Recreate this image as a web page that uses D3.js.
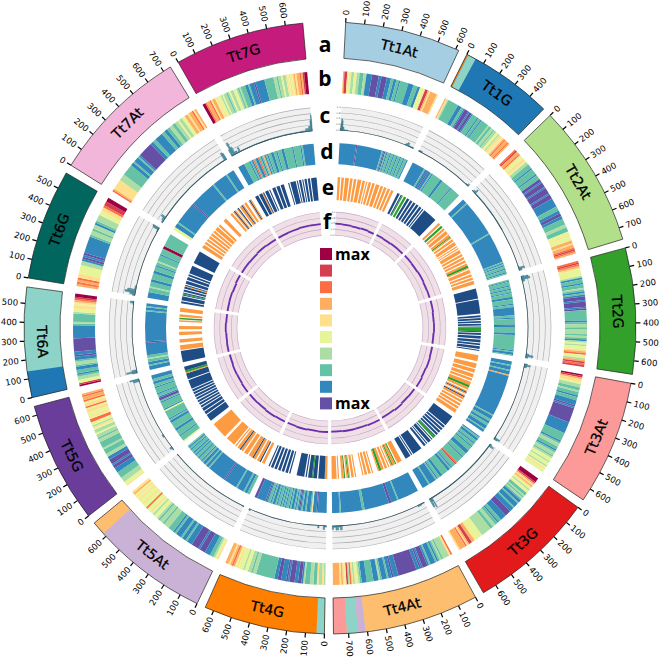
<!DOCTYPE html>
<html>
<head>
<meta charset="utf-8">
<script src="https://cdn.jsdelivr.net/npm/d3@7"></script>
<style>
html,body{margin:0;padding:0;background:#fff}
svg{display:block}
</style>
</head>
<body>
<svg id="chart" width="660" height="658"></svg>
<script>
var chrNames=['Tt1At','Tt1G','Tt2At','Tt2G','Tt3At','Tt3G','Tt4At','Tt4G','Tt5At','Tt5G','Tt6A','Tt6G','Tt7At','Tt7G'];
var chrLengths=[617,498,763,672,668,676,780,647,693,648,587,591,743,693];
var chrColors=['#a6cee3','#1f78b4','#b2df8a','#33a02c','#fb9a99','#e31a1c','#fdbf6f','#ff7f00','#cab2d6','#6a3d9a','#8dd3c7','#01665e','#f1b6da','#c51b7d'];

// blocks painted over the ideogram: chromosome, from, to, colour of the donor chromosome
var blockChr=['Tt1G','Tt1G','Tt4At','Tt4At','Tt4At','Tt4G','Tt5At','Tt6A'];
var blockFrom=[0,8,610,650,710,0,620,0];
var blockTo=[8,52,650,710,780,42,693,140];
var blockDonor=['Tt4G','Tt6A','Tt5At','Tt6A','Tt3At','Tt6A','Tt4At','Tt1G'];

var legendColors=['#9e0142','#d53e4f','#fd6d43','#fdae61','#fee08b','#e6f598','#abdda4','#66c2a5','#3288bd','#6650a6'];
var legendLabels=['max','','','','','','','','','max'];
var ringLetters=['a','b','c','d','e','f'];

// one digit per bin, 0 = purple ... 9 = dark red (legend read bottom to top)
var ringB=[
'68854433443322233111100000110000111221122122222211112221144458865666665',
'65322222222111221000100122221221222222322332334435545676676',
'7866754455433222122221222001000100001000111111222110011222233222445444665667876',
'78765444431221223212100100010222222123323332321343445674436878',
'9865543322322122111010000000001111111222221233221233234434434544',
'9998656543442232321121112111000011112212233223333333444445668865766665',
'7533332321211121000101100000000000111011211123111222211123443573845656666',
'353352233222310011000101110011222222222223323344344454676566',
'5432211100010000111211211121222333233234434544744544545465',
'54433322221110010001133222322223323343345344774544554755476676',
'98443321221123321101100000000111111112322222344554567899',
'67675544443310101111111123323312333445578899',
'7655555533332222222112111210000000001122111112211223322334334466566756',
'99766756645443433234334432322211211101111112222223323343354545656676899'
];
var ringD=[
'11111111111111011111111111111111111121021221221221221221221',
'11111111112110112122222221122222222122222222',
'111121111111111111111111111111111112111111111111111111111111121212212212',
'212221221221222112222122111111122122222012222211222222222222212112',
'11121112111611111111111111111111111111111111112111221122111211',
'12112212212221112221222227822212112222211221211111211111',
'11111111111111111211111001111111111111111111122111111111111111112111111',
'1111111011152111211210121211212212121221211212210111111100',
'22112111112111111111011111111111112112112122122121221212',
'42222122221122222112122222241222221200122122221221122111',
'111211223221111111110111111111111111111111121121 1'.replace(' ',''),
'1111222322211222211222122322221222299222222222',
'441112111111111111111011111111111111111121111111111211111',
'1111122221217211721261212211221222112222221222221211111111'
];
// one char per bin: . empty, O orange, B blue, G green
var ringE=[
'OO.OO.OOO.OO.OO.OOO.OO.O.OO.OO.OOO.OO.OO.OO.OO',
'BB.BG.GG.BB.BB.BB.BB.BB.B.BBBBBBBBBBBB',
'OO.GG.OO.OOO.OOGO.OO.OOO.O.O.OOO.OO.OO.OO.OOGGO.OOO.OO.OO.OOO',
'BBBBBBBBBBB.BBBBBBBBBBBBBBB..BB.BB.BB.BB.BGGGGB.BB.BBB.BBB.BB.BBB.B',
'OOOOO..OOOO.OOO.OOO.OO.OOOGGOO.OBO.OBOO.OO.OO.OO.OOO',
'BBBBBBBBBB.BB.BB.BB.BB.BGG.B.BBB.B.BB...BBBBBBBBB.B.BBBBB',
'OOOO.GOOGO.O.OO.OOGGO....O.OO.OO.O.....O.OO.OGO.GOO..O.OOOO',
'OOBBBBB.BBBGBBB.B.BBBBBB.....B.BB.BB.BB.BB.BB.B',
'OO.BOO.OOBOOO.OOO.OOBOO.O.OOOOOOO..OOOOOOOOOOOO',
'BBBBBBB.BBB.BBB.BB.BB.BB.BB.BB.BB.BB.BBBBBBBBB.BBBBBBOGGBBBB',
'BBBBBBBBBBBBBB.OOOOOO...OOOO.....OOOO...OOOO.....OO.GG.OOO...OOOOO',
'BB.BBBB.BGB.BB.BBOB.BBB.BBB.BB.BBBBBBBB...BBBBBBBBBBBBB',
'OOO.OO.OO.OO.OO.OO.OOO.OO....OOO.....OO.OBO.OB.OOBO.OO..OBO',
'BBB.BBBOB.BBB.B..BBB.BBB.BBB....B.BBBBB.B.BB.B.BB.BB.BBBBB'
];

// ring c: [position, level], each level holds until the next position
var ringC=[
[[0,.1],[4,.3],[8,.5],[14,.42],[20,.14],[30,.03],[60,.01],[540,.02],[550,.08],[560,.14],[575,.03],[617,0]],
[[0,.03],[10,.05],[30,.01],[470,.03],[485,.09],[498,0]],
[[0,.02],[12,.08],[25,.18],[35,.02],[400,.01],[725,.03],[738,.25],[750,.12],[763,0]],
[[0,.12],[6,.3],[18,.35],[30,.1],[45,.01],[630,.02],[640,.12],[648,.3],[660,.08],[672,0]],
[[0,.12],[8,.25],[18,.1],[30,.01],[640,.02],[650,.25],[660,.15],[668,0]],
[[0,.08],[10,.2],[22,.02],[640,.02],[650,.45],[656,.15],[665,.4],[676,0]],
[[0,.03],[30,.06],[60,.01],[690,.02],[700,.18],[715,.05],[730,.18],[750,.06],[770,.15],[780,0]],
[[0,.05],[15,.16],[25,.01],[60,.1],[70,.01],[620,.01],[635,.06],[647,0]],
[[0,.02],[15,.01],[680,.02],[693,0]],
[[0,.03],[15,.1],[30,.01],[130,.06],[150,.01],[610,.01],[625,.25],[640,.4],[648,0]],
[[0,.2],[8,.45],[18,.2],[28,.01],[560,.02],[572,.15],[587,.05]],
[[0,.1],[8,.2],[22,.45],[35,.35],[50,.05],[80,.01],[550,.02],[570,.25],[582,.3],[591,0]],
[[0,.05],[20,.1],[40,.2],[55,.02],[700,.02],[722,.35],[735,.3],[743,0]],
[[0,.3],[10,.6],[22,.35],[35,.1],[55,.03],[70,.2],[80,.02],[600,.03],[640,.12],[665,.2],[680,.45],[688,.7]]
];
// ring f: [position, level], dark purple trace
var ringF=[
[[0,.5],[100,.49],[250,.47],[400,.49],[520,.47],[617,.48]],
[[0,.48],[120,.46],[260,.48],[400,.47],[498,.49]],
[[0,.48],[160,.47],[320,.49],[500,.47],[640,.48],[763,.5]],
[[0,.49],[180,.47],[340,.48],[500,.46],[672,.48]],
[[0,.47],[170,.49],[340,.47],[500,.5],[668,.48]],
[[0,.48],[150,.47],[300,.5],[450,.47],[676,.49]],
[[0,.49],[200,.47],[400,.48],[600,.46],[780,.48]],
[[0,.48],[160,.47],[330,.49],[500,.47],[647,.48]],
[[0,.47],[170,.49],[350,.47],[520,.48],[693,.49]],
[[0,.49],[160,.47],[320,.48],[480,.46],[648,.48]],
[[0,.48],[150,.47],[300,.49],[450,.47],[587,.48]],
[[0,.47],[150,.48],[300,.46],[450,.49],[591,.48]],
[[0,.48],[200,.47],[380,.49],[560,.47],[743,.48]],
[[0,.47],[170,.48],[350,.5],[520,.49],[693,.5]]
];
var axisLevels=[0,.25,.5,.75,1];

var cx=330,cy=328;
var rad=Math.PI/180;
var svg=d3.select('#chart');
var g=svg.append('g').attr('transform','translate('+cx+','+cy+')');

// layout: clockwise from just right of the top, with a wider gap left at the top
var firstAngle=2.94,lastAngle=354.9,gap=1.7;
var total=d3.sum(chrLengths);
var degPerMb=(lastAngle-firstAngle-gap*(chrNames.length-1))/total;
var scales=[];
var pos=firstAngle;
for (var i=0;i<chrNames.length;i++){
    var a0=pos,a1=pos+chrLengths[i]*degPerMb;
    scales.push(d3.scaleLinear().domain([0,chrLengths[i]]).range([a0*rad,a1*rad]));
    pos=a1+gap;
}

var ringA={outer:306,inner:270};
var ringBr={outer:257,inner:235};
var ringCr={outer:221,inner:198};
var ringDr={outer:185,inner:164};
var ringEr={outer:151,inner:128};
var ringFr={outer:116,inner:93};
var arc=d3.arc();
var colorOf=d3.scaleOrdinal().domain(chrNames).range(chrColors);
var heat=d3.scaleOrdinal().domain(['9','8','7','6','5','4','3','2','1','0']).range(legendColors);
var eColor=d3.scaleOrdinal().domain(['O','B','G']).range(['#fd9b42','#1f4c84','#2ca02c']);

function cell(x,from,to,r){
    return arc({innerRadius:r.inner,outerRadius:r.outer,startAngle:x(from),endAngle:x(to)});
}

// ring a: ideograms, ticks, names
var labelFont='"DejaVu Sans",sans-serif';
chrNames.forEach(function(name,i){
    var x=scales[i];
    g.append('path').attr('d',cell(x,0,chrLengths[i],ringA)).attr('fill',chrColors[i]);
    blockChr.forEach(function(c,k){
        if (c==name){
            g.append('path').attr('d',cell(x,blockFrom[k],blockTo[k],ringA)).attr('fill',colorOf(blockDonor[k]));
        }
    });
    g.append('path').attr('d',cell(x,0,chrLengths[i],ringA)).attr('fill','none').attr('stroke','#222').attr('stroke-width',0.7);

    d3.range(0,chrLengths[i],100).forEach(function(t){
        var deg=x(t)/rad;
        g.append('line')
            .attr('transform','rotate('+deg+')')
            .attr('y1',-ringA.outer).attr('y2',-ringA.outer-4.5)
            .attr('stroke','#000').attr('stroke-width',1.2);
        var right=deg<180;
        var px=Math.sin(x(t))*(ringA.outer+7),py=-Math.cos(x(t))*(ringA.outer+7);
        g.append('text')
            .attr('transform','translate('+px+','+py+') rotate('+(right?deg-90:deg+90)+')')
            .attr('text-anchor',right?'start':'end')
            .attr('dy','0.35em')
            .style('font-family',labelFont).style('font-size','8.5px')
            .text(t);
    });

    var mid=(x(0)+x(chrLengths[i]))/2,dm=mid/rad,r=(ringA.outer+ringA.inner)/2;
    g.append('text')
        .attr('transform','translate('+(Math.sin(mid)*r)+','+(-Math.cos(mid)*r)+') rotate('+((dm>90&&dm<270)?dm-180:dm)+')')
        .attr('text-anchor','middle').attr('dy','0.35em')
        .style('font-family',labelFont).style('font-size','14px').attr('fill','#000')
        .attr('stroke','#000').attr('stroke-width',0.25)
        .text(name);
});

// bins of equal class are merged into one arc so no seam shows between them
function runs(s){
    var out=[],k=0;
    while (k<s.length){
        var e=k;
        while (e<s.length-1&&s[e+1]==s[k]) e++;
        out.push({v:s[k],from:k,to:e+1});
        k=e+1;
    }
    return out;
}
function stripRing(strings,r,color){
    strings.forEach(function(s,i){
        var x=scales[i],w=chrLengths[i]/s.length;
        runs(s).forEach(function(d){
            if (d.v!='.'){
                g.append('path').attr('d',cell(x,d.from*w,d.to*w,r)).attr('fill',color(d.v));
            }
        });
    });
}
stripRing(ringB,ringBr,heat);
stripRing(ringD,ringDr,heat);
stripRing(ringE,ringEr,eColor);

// rings c and f share the background and grid
function gridRing(r,bg,gridColor){
    var y=d3.scaleLinear().domain([0,1]).range([r.inner,r.outer]);
    chrNames.forEach(function(name,i){
        var x=scales[i];
        g.append('path').attr('d',cell(x,0,chrLengths[i],r)).attr('fill',bg);
        axisLevels.forEach(function(l){
            g.append('path').attr('d',cell(x,0,chrLengths[i],{inner:y(l)-0.3,outer:y(l)+0.3})).attr('fill',gridColor);
        });
    });
    return y;
}

var yc=gridRing(ringCr,'#f0f0f0','#a8a8a8');
ringC.forEach(function(pts,i){
    var x=scales[i];
    pts.forEach(function(d,k){
        var to=k<pts.length-1?pts[k+1][0]:chrLengths[i];
        if (d[1]>0.015){
            g.append('path').attr('d',cell(x,d[0],to,{inner:yc(0),outer:yc(d[1])}))
                .attr('fill','#4fa3b8').attr('stroke','#2a5a6a').attr('stroke-width',0.4);
        }
    });
    g.append('path').attr('d',cell(x,0,chrLengths[i],{inner:yc(0)-0.35,outer:yc(0)+0.35})).attr('fill','#34525e');
});

var yf=gridRing(ringFr,'#f0dfe5','#bda6cb');
ringF.forEach(function(pts,i){
    var x=scales[i];
    pts.forEach(function(d,k){
        var to=k<pts.length-1?pts[k+1][0]:chrLengths[i];
        g.append('path').attr('d',cell(x,d[0],to,{inner:yf(d[1])-0.9,outer:yf(d[1])+0.9})).attr('fill','#6a2fb0');
    });
});

// tiny axes at the top gap
function tinyAxis(y){
    axisLevels.forEach(function(l){
        g.append('text').attr('x',Math.sin(firstAngle*rad)*y(l)-0.5).attr('y',-y(l)).attr('dy','0.35em')
            .attr('text-anchor','end').attr('fill','#555')
            .style('font-family',labelFont).style('font-size','2.5px')
            .text(d3.format('.1f')(l));
    });
}
tinyAxis(yc);
tinyAxis(yf);

// ring letters
var letterX=[325,325,325,327,328,327];
var letterY=[45,79,116,152,188,222];
ringLetters.forEach(function(l,i){
    svg.append('text').attr('x',letterX[i]).attr('y',letterY[i]).attr('dy','0.35em')
        .attr('text-anchor','middle')
        .style('font-family','"Open Sans",sans-serif').style('font-size','21px').style('font-weight',700)
        .text(l);
});

// legend
var ly=d3.scaleBand().domain(d3.range(legendColors.length)).range([248,414]);
legendColors.forEach(function(c,i){
    svg.append('rect').attr('x',320).attr('y',ly(i)).attr('width',12).attr('height',12).attr('fill',c);
    if (legendLabels[i]){
        svg.append('text').attr('x',335).attr('y',ly(i)+6).attr('dy','0.35em')
            .style('font-family','"Open Sans",sans-serif').style('font-size','16px').style('font-weight',700)
            .text(legendLabels[i]);
    }
});
</script>
</body>
</html>
